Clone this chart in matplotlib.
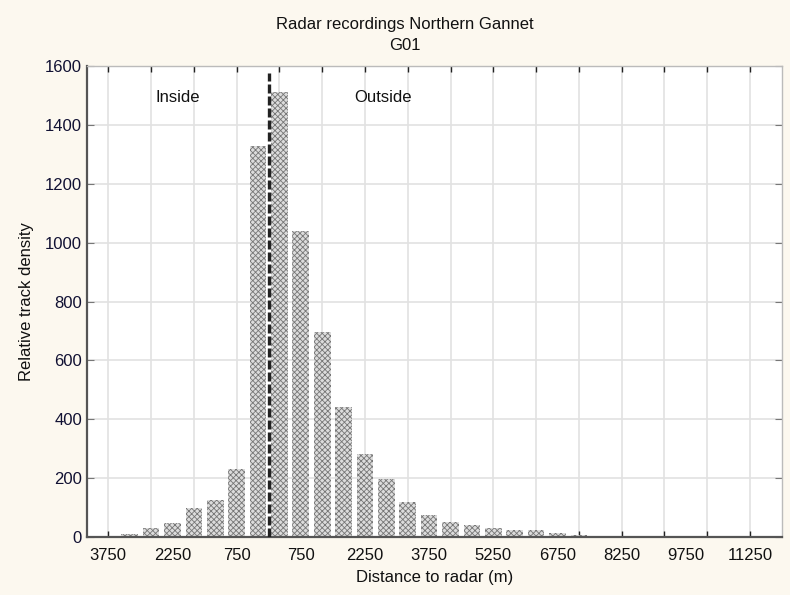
import numpy as np
import matplotlib.pyplot as plt
from matplotlib.ticker import FixedLocator, MultipleLocator

plt.rcParams['font.family'] = ['Liberation Sans', 'DejaVu Sans']
plt.rcParams['hatch.linewidth'] = 0.6

# bin centres (m), negative = inside, positive = outside
bin_centres = [-3750, -3250, -2750, -2250, -1750, -1250, -750, -250,
               250, 750, 1250, 1750, 2250, 2750, 3250, 3750, 4250, 4750,
               5250, 5750, 6250, 6750, 7250, 7750, 8250, 8750, 9250, 9750,
               10250, 10750, 11250]
density = [5, 10, 30, 46, 97, 127, 230, 1328,
           1512, 1040, 697, 440, 282, 196, 118, 74, 50, 41,
           30, 25, 23, 15, 7, 4, 3, 1, 0, 0,
           0, 0, 3]

label_pos = [-3750, -2250, -750, 750, 2250, 3750, 5250, 6750, 8250, 9750, 11250]
label_txt = ["3750", "2250", "750", "750", "2250", "3750", "5250", "6750",
             "8250", "9750", "11250"]

bg = '#fcf8ef'
fig = plt.figure(figsize=(7.9, 5.95), dpi=100, facecolor=bg)
ax = fig.add_axes([0.110, 0.0975, 0.880, 0.7915])
ax.set_facecolor('white')

ax.bar(bin_centres, density, width=390, color='#dcdcdc', edgecolor='#767676',
       hatch='xxxxxx', linewidth=0, zorder=2)

ax.axvline(0, color='#222222', lw=2.4, dashes=(2.7, 0.9), ymax=0.985, zorder=3)

ax.set_xlim(-4250, 12000)
ax.set_ylim(0, 1600)

ax.xaxis.remove_overlapping_locs = False
ax.xaxis.set_major_locator(FixedLocator(label_pos))
ax.set_xticklabels(label_txt)
ax.xaxis.set_minor_locator(FixedLocator(np.arange(-3750, 12000, 1000)))
ax.yaxis.set_major_locator(MultipleLocator(200))

ax.tick_params(axis='x', which='major', length=0, labelsize=12, pad=8, labelcolor='#111111')
ax.tick_params(axis='x', which='minor', direction='in', length=4, top=True, bottom=True,
               color='#222222', width=1)
ax.tick_params(axis='y', which='major', direction='in', length=5, left=True, right=True,
               labelsize=12, labelcolor='#111133', color='#777777')

ax.grid(True, which='minor', axis='x', color='#e2e2e2', lw=1.2, zorder=0)
ax.grid(True, which='major', axis='y', color='#e2e2e2', lw=1.2, zorder=0)
ax.set_axisbelow(True)

for s in ['left', 'bottom']:
    ax.spines[s].set_color('#555555')
    ax.spines[s].set_linewidth(1.6)
for s in ['top', 'right']:
    ax.spines[s].set_color('#bbbbbb')
    ax.spines[s].set_linewidth(1.0)

ax.text(-2134, 1494, "Inside", fontsize=12, ha='center', va='center', color='#111111')
ax.text(2663, 1494, "Outside", fontsize=12, ha='center', va='center', color='#111111')

ax.set_xlabel("Distance to radar (m)", fontsize=12, labelpad=5, color='#111111')
ax.set_ylabel("Relative track density", fontsize=12, labelpad=8, color='#111111')

fig.text(0.512, 0.958, "Radar recordings Northern Gannet", fontsize=12,
         ha='center', va='center', color='#111111')
fig.text(0.512, 0.923, "G01", fontsize=12, ha='center', va='center', color='#111111')

fig.savefig('out.png', dpi=100, facecolor=bg)
